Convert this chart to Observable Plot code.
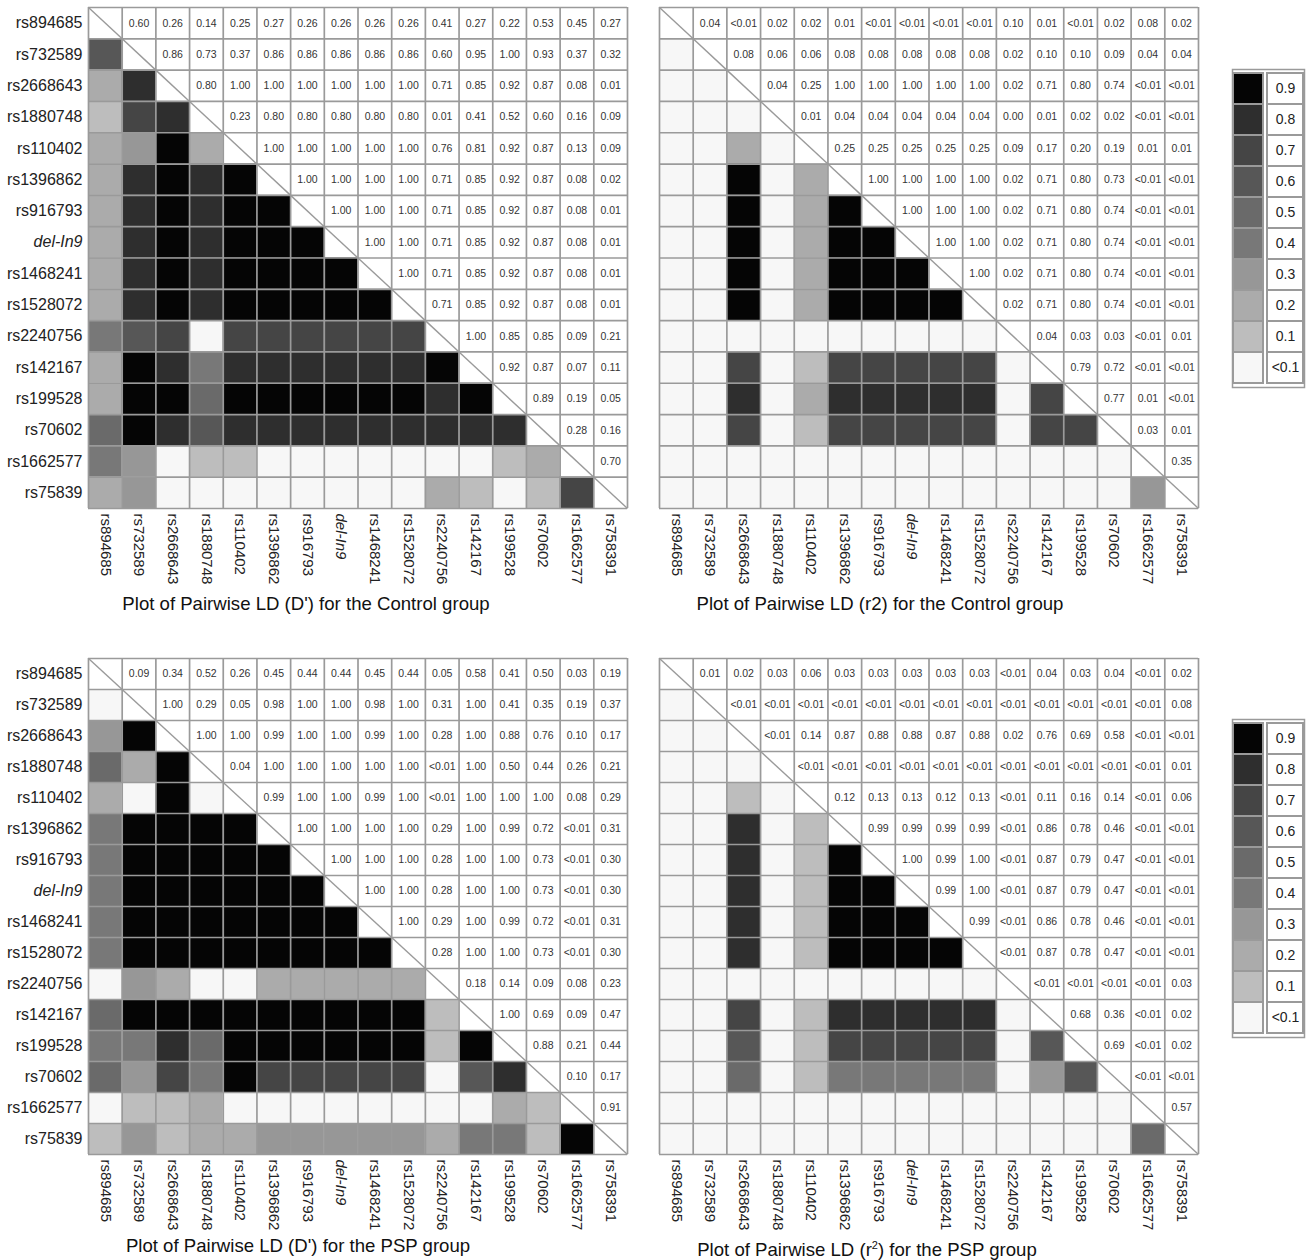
<!DOCTYPE html>
<html><head><meta charset="utf-8">
<script src="https://cdn.jsdelivr.net/npm/d3@7"></script>
<script src="https://cdn.jsdelivr.net/npm/@observablehq/plot@0.6"></script>
<style>
body{margin:0;background:#fff;font-family:Arial,"Liberation Sans",sans-serif;}
#root{position:relative;width:1311px;height:1260px;overflow:hidden;background:#fff;}
.panel{position:absolute;}
.title{position:absolute;font-size:18.6px;color:#111;white-space:nowrap;transform:translateX(-50%);line-height:20px;}
.title sup{font-size:11px;line-height:0;}
</style></head><body><div id="root"></div>
<script>
// SNP names (rows and columns)
const rowSNPs = ["rs894685","rs732589","rs2668643","rs1880748","rs110402","rs1396862","rs916793","del-In9","rs1468241","rs1528072","rs2240756","rs142167","rs199528","rs70602","rs1662577","rs75839"];
const colSNPs = ["rs894685","rs732589","rs2668643","rs1880748","rs110402","rs1396862","rs916793","del-In9","rs1468241","rs1528072","rs2240756","rs142167","rs199528","rs70602","rs1662577","rs758391"];

// Upper-triangle values, row i holds columns i+1 .. 15
const dPrimeControl = [
 "0.60 0.26 0.14 0.25 0.27 0.26 0.26 0.26 0.26 0.41 0.27 0.22 0.53 0.45 0.27",
 "0.86 0.73 0.37 0.86 0.86 0.86 0.86 0.86 0.60 0.95 1.00 0.93 0.37 0.32",
 "0.80 1.00 1.00 1.00 1.00 1.00 1.00 0.71 0.85 0.92 0.87 0.08 0.01",
 "0.23 0.80 0.80 0.80 0.80 0.80 0.01 0.41 0.52 0.60 0.16 0.09",
 "1.00 1.00 1.00 1.00 1.00 0.76 0.81 0.92 0.87 0.13 0.09",
 "1.00 1.00 1.00 1.00 0.71 0.85 0.92 0.87 0.08 0.02",
 "1.00 1.00 1.00 0.71 0.85 0.92 0.87 0.08 0.01",
 "1.00 1.00 0.71 0.85 0.92 0.87 0.08 0.01",
 "1.00 0.71 0.85 0.92 0.87 0.08 0.01",
 "0.71 0.85 0.92 0.87 0.08 0.01",
 "1.00 0.85 0.85 0.09 0.21",
 "0.92 0.87 0.07 0.11",
 "0.89 0.19 0.05",
 "0.28 0.16",
 "0.70"
].map(r => r.split(" "));

const r2Control = [
 "0.04 <0.01 0.02 0.02 0.01 <0.01 <0.01 <0.01 <0.01 0.10 0.01 <0.01 0.02 0.08 0.02",
 "0.08 0.06 0.06 0.08 0.08 0.08 0.08 0.08 0.02 0.10 0.10 0.09 0.04 0.04",
 "0.04 0.25 1.00 1.00 1.00 1.00 1.00 0.02 0.71 0.80 0.74 <0.01 <0.01",
 "0.01 0.04 0.04 0.04 0.04 0.04 0.00 0.01 0.02 0.02 <0.01 <0.01",
 "0.25 0.25 0.25 0.25 0.25 0.09 0.17 0.20 0.19 0.01 0.01",
 "1.00 1.00 1.00 1.00 0.02 0.71 0.80 0.73 <0.01 <0.01",
 "1.00 1.00 1.00 0.02 0.71 0.80 0.74 <0.01 <0.01",
 "1.00 1.00 0.02 0.71 0.80 0.74 <0.01 <0.01",
 "1.00 0.02 0.71 0.80 0.74 <0.01 <0.01",
 "0.02 0.71 0.80 0.74 <0.01 <0.01",
 "0.04 0.03 0.03 <0.01 0.01",
 "0.79 0.72 <0.01 <0.01",
 "0.77 0.01 <0.01",
 "0.03 0.01",
 "0.35"
].map(r => r.split(" "));
// cells printed as "0.10" whose shading in the picture is the "<0.1" class (row, column)
const r2ControlShadedBelow = [[0, 10], [1, 11], [1, 12]];

const dPrimePSP = [
 "0.09 0.34 0.52 0.26 0.45 0.44 0.44 0.45 0.44 0.05 0.58 0.41 0.50 0.03 0.19",
 "1.00 0.29 0.05 0.98 1.00 1.00 0.98 1.00 0.31 1.00 0.41 0.35 0.19 0.37",
 "1.00 1.00 0.99 1.00 1.00 0.99 1.00 0.28 1.00 0.88 0.76 0.10 0.17",
 "0.04 1.00 1.00 1.00 1.00 1.00 <0.01 1.00 0.50 0.44 0.26 0.21",
 "0.99 1.00 1.00 0.99 1.00 <0.01 1.00 1.00 1.00 0.08 0.29",
 "1.00 1.00 1.00 1.00 0.29 1.00 0.99 0.72 <0.01 0.31",
 "1.00 1.00 1.00 0.28 1.00 1.00 0.73 <0.01 0.30",
 "1.00 1.00 0.28 1.00 1.00 0.73 <0.01 0.30",
 "1.00 0.29 1.00 0.99 0.72 <0.01 0.31",
 "0.28 1.00 1.00 0.73 <0.01 0.30",
 "0.18 0.14 0.09 0.08 0.23",
 "1.00 0.69 0.09 0.47",
 "0.88 0.21 0.44",
 "0.10 0.17",
 "0.91"
].map(r => r.split(" "));

const r2PSP = [
 "0.01 0.02 0.03 0.06 0.03 0.03 0.03 0.03 0.03 <0.01 0.04 0.03 0.04 <0.01 0.02",
 "<0.01 <0.01 <0.01 <0.01 <0.01 <0.01 <0.01 <0.01 <0.01 <0.01 <0.01 <0.01 <0.01 0.08",
 "<0.01 0.14 0.87 0.88 0.88 0.87 0.88 0.02 0.76 0.69 0.58 <0.01 <0.01",
 "<0.01 <0.01 <0.01 <0.01 <0.01 <0.01 <0.01 <0.01 <0.01 <0.01 <0.01 0.01",
 "0.12 0.13 0.13 0.12 0.13 <0.01 0.11 0.16 0.14 <0.01 0.06",
 "0.99 0.99 0.99 0.99 <0.01 0.86 0.78 0.46 <0.01 <0.01",
 "1.00 0.99 1.00 <0.01 0.87 0.79 0.47 <0.01 <0.01",
 "0.99 1.00 <0.01 0.87 0.79 0.47 <0.01 <0.01",
 "0.99 <0.01 0.86 0.78 0.46 <0.01 <0.01",
 "<0.01 0.87 0.78 0.47 <0.01 <0.01",
 "<0.01 <0.01 <0.01 <0.01 0.03",
 "0.68 0.36 <0.01 0.02",
 "0.69 <0.01 0.02",
 "<0.01 <0.01",
 "0.57"
].map(r => r.split(" "));

// Shading bins
const thresholds = [0.1, 0.2, 0.3, 0.4, 0.5, 0.6, 0.7, 0.8, 0.9];
const grays = ["#f7f7f7","#bdbdbd","#ababab","#979797","#787878","#6a6a6a","#575757","#454545","#2e2e2e","#050505"];
const legendLabels = ["0.9","0.8","0.7","0.6","0.5","0.4","0.3","0.2","0.1","<0.1"];
const legendValues = [0.9, 0.8, 0.7, 0.6, 0.5, 0.4, 0.3, 0.2, 0.1, 0];

const titles = [
  "Plot of Pairwise LD (D') for the Control group",
  "Plot of Pairwise LD (r2) for the Control group",
  "Plot of Pairwise LD (D') for the PSP group",
  "Plot of Pairwise LD (r<sup>2</sup>) for the PSP group"
];

const FONT = "Arial, 'Liberation Sans', sans-serif";
const GRID = "#9a9a9a";
const num = s => s.startsWith("<") ? 0.005 : +s;
const colorScale = {type: "threshold", domain: thresholds, range: grays};

function ldPanel(upper, showRows, gridH, below = []) {
  const n = rowSNPs.length;
  const lower = [], texts = [];
  const belowSet = new Set(below.map(([a, b]) => a + "," + b));
  upper.forEach((row, i) => row.forEach((t, k) => {
    const j = i + 1 + k;
    texts.push({i, j, t});
    const v = belowSet.has(i + "," + j) ? 0.099 : num(t);
    lower.push({i: j, j: i, v});
  }));
  const diag = d3.range(n);
  const ticks = d3.range(n).map(i => i + 0.5);
  const mb = 88;
  const ml = showRows ? 88 : 19;
  const plot = Plot.plot({
    width: ml + 539 + 13, height: 7 + gridH + mb,
    marginLeft: ml, marginRight: 13, marginTop: 7, marginBottom: mb,
    x: {domain: [0, n], axis: null},
    y: {domain: [0, n], reverse: true, axis: null},
    color: colorScale,
    style: {fontFamily: FONT, background: "transparent", color: "#222"},
    marks: [
      Plot.rect(lower, {x1: d => d.j, x2: d => d.j + 1, y1: d => d.i, y2: d => d.i + 1, fill: d => d.v}),
      Plot.ruleX(d3.range(n + 1), {stroke: GRID, strokeWidth: 1.7}),
      Plot.ruleY(d3.range(n + 1), {stroke: GRID, strokeWidth: 1.7}),
      Plot.link(diag, {x1: d => d, y1: d => d, x2: d => d + 1, y2: d => d + 1, stroke: GRID, strokeWidth: 1.4}),
      Plot.text(texts, {x: d => d.j + 0.5, y: d => d.i + 0.5, text: d => d.t, fontSize: 10.5, fill: "#333"}),
      Plot.axisX(ticks, {anchor: "bottom", tickSize: 0, tickPadding: 5, tickRotate: 90, label: null,
        tickFormat: d => colSNPs[Math.floor(d)], fontSize: 15, fill: "#222"}),
      showRows ? Plot.axisY(ticks, {anchor: "left", tickSize: 0, tickPadding: 6, label: null,
        tickFormat: d => rowSNPs[Math.floor(d)], fontSize: 16, fill: "#222"}) : null
    ]
  });
  plot.querySelectorAll("text, tspan").forEach(t => {
    if (t.textContent === "del-In9") t.style.fontStyle = "italic";
  });
  return plot;
}

function legend() {
  return Plot.plot({
    width: 76, height: 322, margin: 2,
    x: {domain: [0, 72], range: [2, 74], axis: null},
    y: {domain: legendLabels, axis: null, padding: 0},
    color: colorScale,
    style: {fontFamily: FONT, background: "white"},
    marks: [
      Plot.barX(legendLabels, {x1: () => 1, x2: () => 31, y: d => d, fill: (d, i) => legendValues[i], stroke: GRID, strokeWidth: 2}),
      Plot.barX(legendLabels, {x1: () => 35, x2: () => 71, y: d => d, fill: "white", stroke: GRID, strokeWidth: 2}),
      Plot.text(legendLabels, {x: () => 53, y: d => d, text: d => d, fontSize: 14, fill: "#222"}),
      Plot.frame({stroke: GRID, strokeWidth: 1.5})
    ]
  });
}

const root = document.getElementById("root");
function place(el, left, top) {
  const d = document.createElement("div");
  d.className = "panel";
  d.style.left = left + "px";
  d.style.top = top + "px";
  d.appendChild(el);
  root.appendChild(d);
}
function title(html, cx, top) {
  const d = document.createElement("div");
  d.className = "title";
  d.style.left = cx + "px";
  d.style.top = top + "px";
  d.innerHTML = html;
  root.appendChild(d);
}

place(ldPanel(dPrimeControl, true, 501), 0, 0);
place(ldPanel(r2Control, false, 501, r2ControlShadedBelow), 640, 0);
place(ldPanel(dPrimePSP, true, 496), 0, 651);
place(ldPanel(r2PSP, false, 496), 640, 651);
place(legend(), 1230, 67);
place(legend(), 1230, 717);
title(titles[0], 306, 594);
title(titles[1], 880, 594);
title(titles[2], 298, 1236);
title(titles[3], 867, 1240);
</script></body></html>
